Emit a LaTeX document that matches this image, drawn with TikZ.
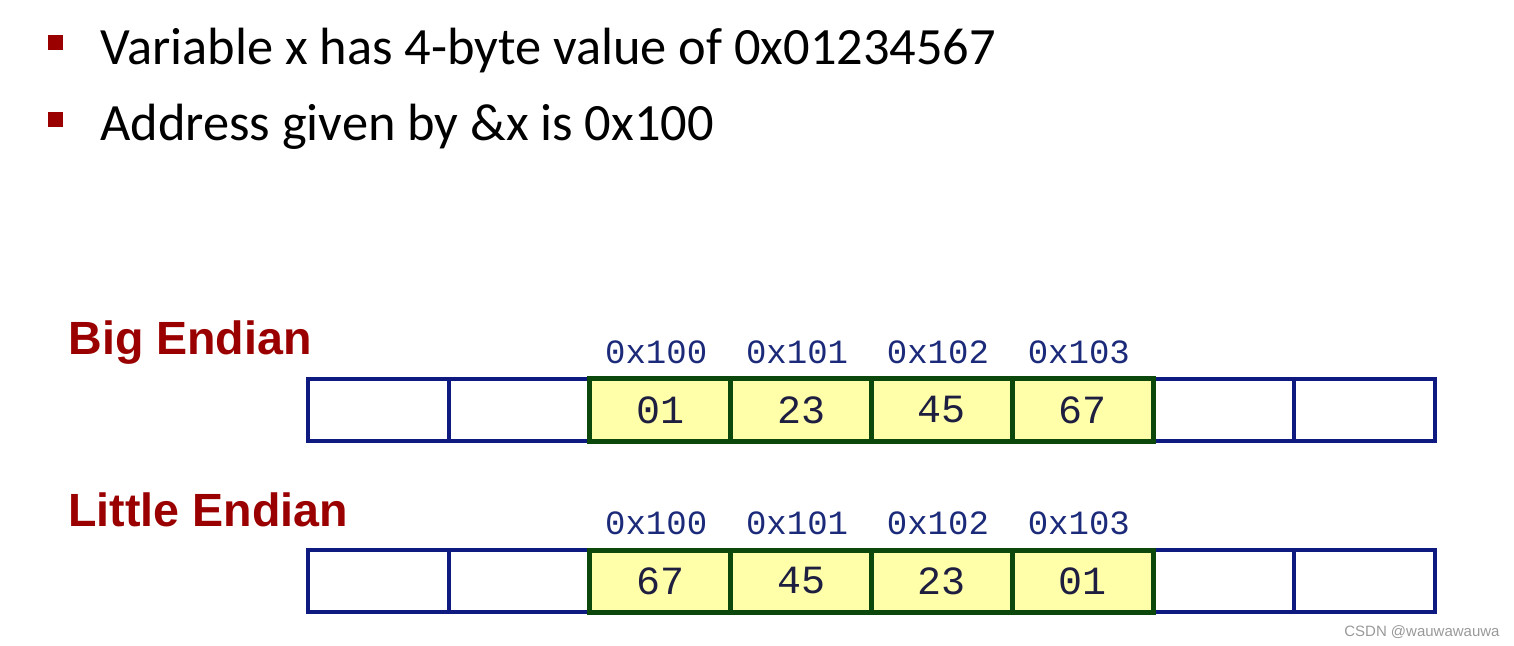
\documentclass[tikz,border=0pt]{standalone}
\usepackage{fontspec}
\setmainfont{Carlito}
\setmonofont{Liberation Mono}
\newfontfamily\headfont{Liberation Sans}
\usetikzlibrary{positioning}
\definecolor{c1}{HTML}{0E1A80}
\definecolor{c2}{HTML}{0C480C}
\definecolor{c3}{HTML}{FFFFAA}
\definecolor{c4}{HTML}{9A0000}
\definecolor{addrcolor}{HTML}{1C2A7A}
\definecolor{valcolor}{HTML}{1E1E40}
\newcommand{\cw}{140.875}

\begin{document}
\begin{tikzpicture}[
    x=0.5pt, y=-0.5pt,
    every node/.style={inner sep=0pt},
    slot/.style={draw=c1, fill=white, line width=2pt,
                 minimum width=70.4pt, minimum height=31pt},
    byte/.style={draw=c2, fill=c3, line width=2.5pt,
                 minimum width=70.4pt, minimum height=31pt,
                 font=\ttfamily\fontsize{20}{20}\selectfont, text=valcolor},
    addr/.style={font=\ttfamily\fontsize{17}{17}\selectfont, text=addrcolor},
    rowname/.style={font=\headfont\bfseries\fontsize{23.3}{23.3}\selectfont,
                    text=c4, anchor=base west},
    point/.style={fill=c4, minimum size=7.5pt},
    line/.style={font=\fontsize{26.2}{26.2}\selectfont, anchor=base west},
]
\useasboundingbox (0,0) rectangle (1514,646);

% ---------------------------------------------------------------- bullets
\node[point] (p1) at (55,43) {};
\node[point] (p2) at (55,120) {};
\node[line] (t1) at (100,65) {Variable x has 4-byte value of 0x01234567};
\node[line] (t2) at (100,141) {Address given by \&x is 0x100};

% ---------------------------------------------------------------- the cells
\foreach \r/\y in {be/410, le/581} {
    \foreach \i in {0,1,6,7} {
        \node[slot] (\r\i) at ({308+\cw*\i+\cw/2}, \y) {};
    }
}
\foreach \i/\v in {2/01, 3/23, 4/45, 5/67} {
    \node[byte] (be\i) at ({308+\cw*\i+\cw/2}, 410) {\v};
}
\foreach \i/\v in {2/67, 3/45, 4/23, 5/01} {
    \node[byte] (le\i) at ({308+\cw*\i+\cw/2}, 581) {\v};
}

% ---------------------------------------------------------------- addresses
\foreach \i/\a in {2/100, 3/101, 4/102, 5/103} {
    \node[addr, above=6pt of be\i, xshift=-2pt] (abe\i) {0x\a};
    \node[addr, above=6pt of le\i, xshift=-2pt] (ale\i) {0x\a};
}

% ---------------------------------------------------------------- labels
\node[rowname] (big) at (68,355) {Big Endian};
\node[rowname] (little) at (68,526) {Little Endian};

\node[font=\headfont\fontsize{7.5}{7.5}\selectfont, text=black!40,
      anchor=east] (mark) at (1500,632) {CSDN @wauwawauwa};

\end{tikzpicture}
\end{document}
